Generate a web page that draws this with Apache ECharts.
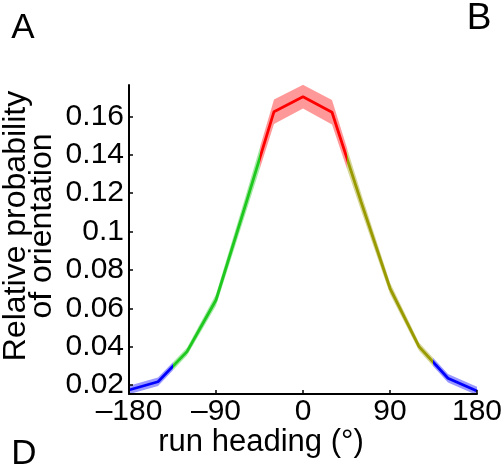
<!DOCTYPE html>
<html lang="en">
<head>
	<meta charset="UTF-8">
	<title>run heading</title>
	<script src="https://cdn.jsdelivr.net/npm/echarts@6/dist/echarts.min.js"></script>
	<style>
		html, body{
			margin: 0;
			padding: 0;
			background: #fff;
		}
		#view{
			width: 501px;
			height: 464px;
		}
	</style>
</head>
<body>
	<div id="view"></div>
</body>
<script>

	// run heading bins (deg) and mean relative probability with its error
	var headings = [-180, -150, -120, -90, -60, -30, 0, 30, 60, 90, 120, 150, 180];
	var probs = [0.0174, 0.0217, 0.0374, 0.0643, 0.113, 0.1625, 0.1703, 0.1622, 0.1156, 0.0704, 0.040, 0.0235, 0.0169];
	var errs = [0.0022, 0.0022, 0.002, 0.003, 0.0045, 0.0064, 0.0062, 0.0064, 0.0045, 0.003, 0.0022, 0.0022, 0.0022];

	var xTicks = [-180, -90, 0, 90, 180];
	var yTicks = [0.02, 0.04, 0.06, 0.08, 0.1, 0.12, 0.14, 0.16];

	var font = "'Liberation Sans', Arial, Helvetica, sans-serif";

	var view = document.getElementById('view');
	var mychart = echarts.init(view);

	var upper = headings.map(function(h, i){
		return [h, probs[i] + errs[i]];
	});
	var lower = headings.map(function(h, i){
		return [h, probs[i] - errs[i]];
	});
	var line = headings.map(function(h, i){
		return [h, probs[i]];
	});

	var option = {
		backgroundColor: '#fff',
		animation: false,
		textStyle: {
			fontFamily: font
		},
		grid: {
			left: 129,
			right: 24,
			top: 85,
			bottom: 70,
			containLabel: false,
			outerBoundsMode: 'none'
		},
		visualMap: {
			type: 'piecewise',
			show: false,
			dimension: 0,
			seriesIndex: [0, 2],
			pieces: [
				{lt: -135, color: '#0000ff'},
				{gte: -135, lt: -45, color: '#1ec81e'},
				{gte: -45, lt: 45, color: '#ff0000'},
				{gte: 45, lt: 135, color: '#999900'},
				{gte: 135, color: '#0000ff'}
			]
		},
		xAxis: {
			type: 'value',
			min: -180,
			max: 180,
			interval: 90,
			z: 10,
			splitLine: {show: false},
			axisLine: {onZero: false, lineStyle: {color: '#000', width: 2}},
			axisTick: {
				inside: true,
				length: 4,
				lineStyle: {color: '#000', width: 1.5},
				customValues: xTicks
			},
			axisLabel: {
				color: '#000',
				fontSize: 30,
				fontFamily: font,
				margin: 3,
				customValues: xTicks,
				formatter: function(v){
					return v < 0 ? '\u2013' + (-v) : String(v);
				}
			}
		},
		yAxis: {
			type: 'value',
			min: 0.0153,
			max: 0.1764,
			z: 10,
			splitLine: {show: false},
			axisLine: {show: true, onZero: false, lineStyle: {color: '#000', width: 2}},
			axisTick: {
				show: true,
				inside: true,
				length: 4,
				lineStyle: {color: '#000', width: 1.5},
				customValues: yTicks
			},
			axisLabel: {
				color: '#000',
				fontSize: 30,
				fontFamily: font,
				margin: 5,
				customValues: yTicks,
				formatter: function(v){
					return String(+v.toFixed(2));
				}
			}
		},
		series: [
			{
				// upper edge of the error band, filled down to the axis
				name: 'upper',
				type: 'line',
				data: upper,
				symbol: 'none',
				silent: true,
				lineStyle: {opacity: 0, width: 0},
				areaStyle: {opacity: 0.4}
			},
			{
				// lower edge, white fill hides the band below it
				name: 'lower',
				type: 'line',
				data: lower,
				symbol: 'none',
				silent: true,
				lineStyle: {opacity: 0, width: 0},
				areaStyle: {color: '#fff', opacity: 1}
			},
			{
				name: 'mean',
				type: 'line',
				data: line,
				symbol: 'none',
				lineStyle: {width: 2.8}
			}
		],
		graphic: [
			{
				type: 'text',
				x: 29,
				y: 226,
				rotation: Math.PI / 2,
				style: {
					text: 'Relative probability\nof orientation',
					font: '32px ' + font,
					lineHeight: 26,
					align: 'center',
					verticalAlign: 'middle',
					fill: '#000'
				}
			},
			{
				type: 'text',
				x: 261,
				y: 442,
				style: {
					text: 'run heading (\u00b0)',
					font: '31px ' + font,
					align: 'center',
					verticalAlign: 'middle',
					fill: '#000'
				}
			},
			{
				type: 'text',
				x: 23,
				y: 28,
				style: {text: 'A', font: '35px ' + font, align: 'center', verticalAlign: 'middle', fill: '#000'}
			},
			{
				type: 'text',
				x: 479,
				y: 19,
				style: {text: 'B', font: '37px ' + font, align: 'center', verticalAlign: 'middle', fill: '#000'}
			},
			{
				type: 'text',
				x: 24,
				y: 454,
				style: {text: 'D', font: '35px ' + font, align: 'center', verticalAlign: 'middle', fill: '#000'}
			}
		]
	};

	mychart.setOption(option);

	window.onresize = function(){
		mychart.resize();
	}

</script>
</html>
